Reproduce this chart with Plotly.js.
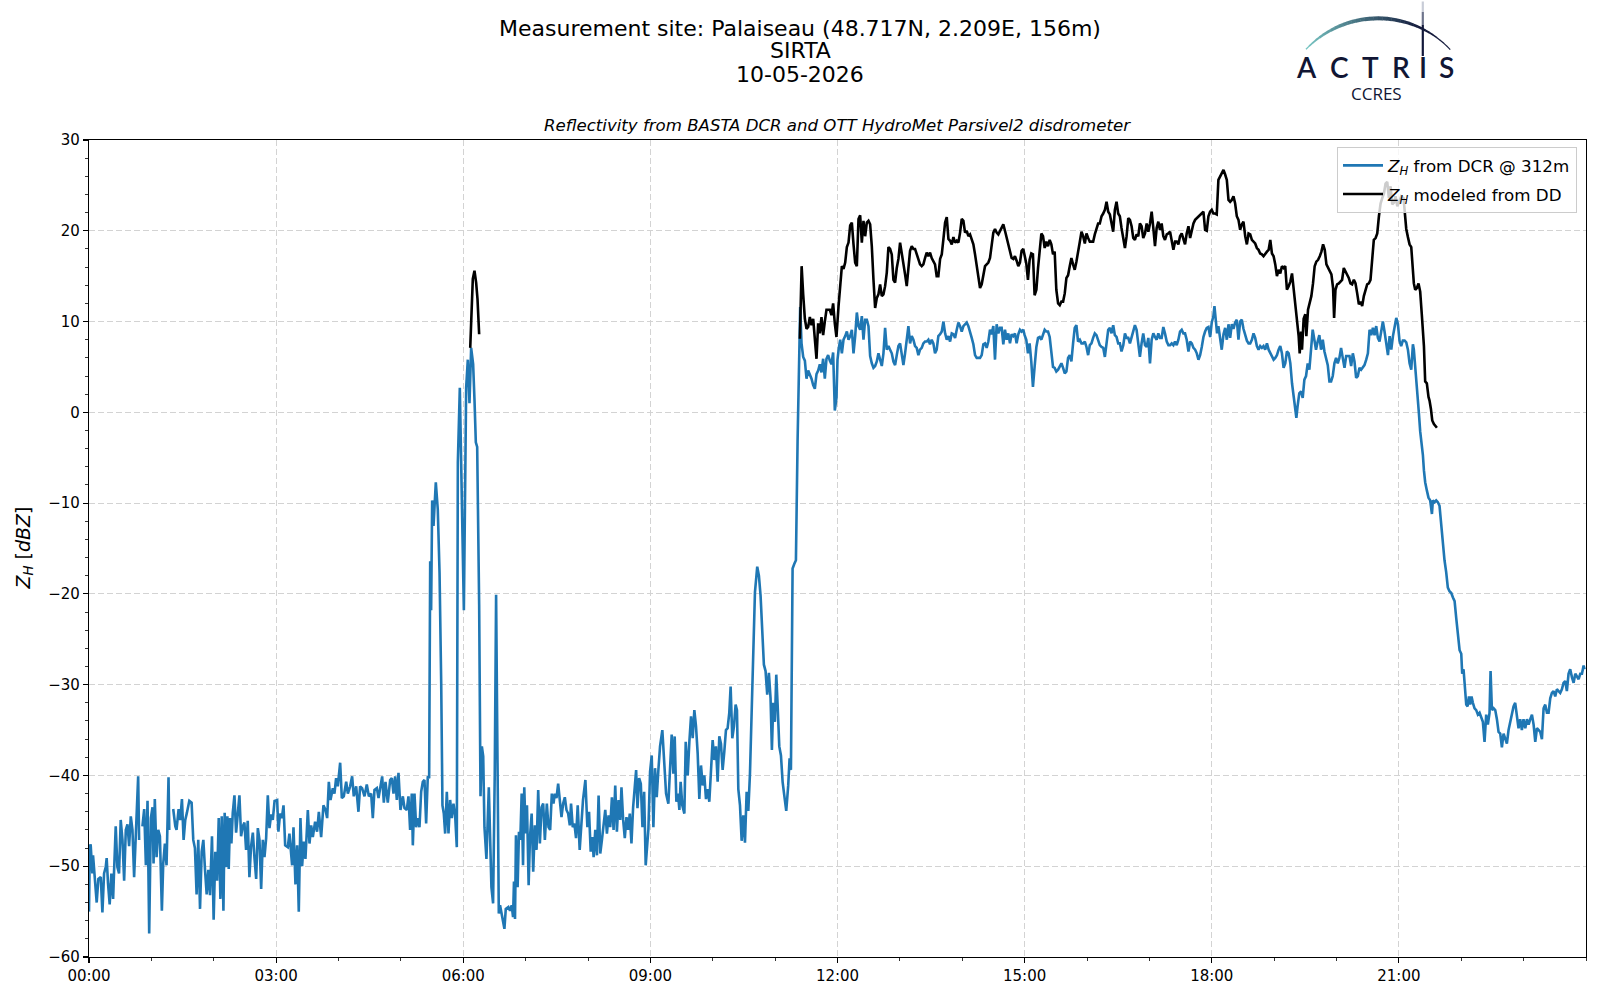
<!DOCTYPE html>
<html>
<head>
<meta charset="utf-8">
<script src="https://cdn.plot.ly/plotly-3.0.1.min.js"></script>
<style>
  html, body { margin: 0; padding: 0; background: #ffffff; }
  #chart { width: 1600px; height: 1000px; }
</style>
</head>
<body>
<div id="chart"></div>
<script>
// ---------------- DATA (time in minutes after 00:00, reflectivity in dBZ) ----------------
const blueName = "<i>Z</i><sub><i>H</i></sub> from DCR @ 312m";
const blackName = "<i>Z</i><sub><i>H</i></sub> modeled from DD";

const blueTime = [
  0, 0.8, 1.6, 3.2, 3.9, 5.8, 7.4, 9.0, 11.3, 12.9,
  14.5, 16.1, 17.0, 18.3, 19.9, 21.5, 23.2, 24.1, 25.7, 27.3,
  28.9, 30.5, 32.2, 33.8, 35.4, 37.0, 38.6, 40.2, 41.8, 43.4,
  45.0, 47.3, 48.2, 49.8, 51.4, 53.1, 54.7, 56.3, 57.9, 59.5,
  61.1, 62.1, 63.3, 65.0, 66.6, 68.2, 70.1, 71.4, 73.0, 74.6,
  76.5, 77.2, 79.0, 81.0, 83.0, 84.2, 86.2, 87.8, 89.4, 91.0,
  92.6, 94.2, 96.5, 98.7, 100.3, 101.9, 103.5, 105.1, 106.8, 108.4,
  110.0, 111.6, 113.2, 114.8, 116.4, 118.3, 119.9, 121.5, 123.2, 124.8,
  126.4, 127.7, 129.3, 130.5, 131.8, 133.1, 134.4, 135.7, 137.0, 138.3,
  139.9, 141.5, 143.1, 144.7, 146.3, 147.9, 149.5, 151.1, 152.7, 154.3,
  155.9, 157.6, 159.2, 160.8, 162.4, 164.0, 165.6, 167.2, 168.8, 170.4,
  172.0, 173.6, 175.2, 176.8, 178.5, 181.0, 182.2, 183.8, 185.5, 187.1,
  188.7, 191.2, 192.8, 194.4, 195.4, 196.7, 198.6, 200.2, 201.8, 203.4,
  205.0, 206.6, 208.2, 210.5, 212.1, 213.7, 215.3, 217.5, 219.4, 221.1,
  223.3, 225.5, 227.5, 229.1, 230.7, 232.3, 234.5, 236.1, 237.7, 239.3,
  241.6, 243.2, 245.1, 247.4, 249.0, 251.2, 253.1, 254.7, 257.0, 259.2,
  260.8, 262.7, 265.0, 267.2, 269.2, 271.4, 273.0, 274.6, 276.9, 278.5,
  280.1, 282.0, 283.6, 285.2, 287.4, 289.7, 291.3, 292.9, 294.5, 296.1,
  297.7, 299.6, 301.9, 303.5, 305.7, 307.3, 308.9, 310.5, 311.5, 313.1,
  314.7, 316.3, 317.9, 319.5, 321.1, 322.7, 324.3, 325.9, 327.2, 328.2,
  329.1, 330.1, 331.4, 332.3, 333.6, 335.5, 337.2, 338.8, 340.0, 341.3,
  342.6, 344.2, 345.8, 347.4, 349.0, 350.6, 352.2, 353.8, 354.8, 356.7,
  358.0, 359.3, 360.6, 361.5, 362.8, 364.4, 366.0, 367.6, 369.5, 370.8,
  372.1, 373.4, 375.3, 376.6, 377.9, 379.2, 380.4, 382.3, 384.6, 385.9,
  387.1, 388.7, 390.3, 391.6, 392.9, 394.2, 395.4, 397.7, 399.6, 400.9,
  403.4, 405.0, 406.6, 407.9, 408.8, 409.8, 410.7, 412.3, 413.6, 414.9,
  416.2, 417.5, 418.7, 420.0, 421.3, 422.9, 424.2, 425.8, 427.3, 428.9,
  430.5, 432.1, 433.7, 435.3, 436.9, 438.5, 440.4, 442.0, 443.6, 445.2,
  446.8, 448.1, 449.7, 451.3, 452.9, 454.5, 456.1, 457.7, 459.3, 460.9,
  462.5, 463.7, 465.3, 466.9, 468.5, 470.1, 472.0, 473.6, 475.2, 477.5,
  479.4, 481.0, 482.6, 484.2, 485.4, 487.0, 488.6, 490.2, 491.8, 493.4,
  495.0, 496.6, 498.2, 499.8, 501.4, 503.0, 504.6, 506.2, 507.8, 509.4,
  511.0, 512.2, 513.8, 515.4, 517.0, 518.6, 520.2, 521.8, 523.4, 524.7,
  526.3, 527.6, 529.2, 530.8, 532.4, 534.0, 535.5, 538.1, 539.7, 541.3,
  542.9, 544.5, 546.1, 547.7, 549.3, 551.5, 553.5, 555.1, 557.3, 558.9,
  560.5, 562.1, 563.4, 565.0, 566.6, 567.9, 569.1, 570.7, 572.7, 574.0,
  575.9, 577.5, 579.1, 580.7, 582.3, 583.9, 585.5, 587.1, 588.7, 590.3,
  591.9, 593.5, 595.1, 596.7, 598.3, 599.9, 601.5, 603.1, 604.7, 606.3,
  607.9, 609.5, 611.1, 612.7, 614.3, 615.9, 617.2, 618.8, 620.4, 622.0,
  623.3, 624.6, 626.2, 627.8, 629.4, 631.0, 632.6, 634.2, 635.8, 637.4,
  639.0, 640.6, 642.8, 644.4, 646.0, 647.6, 649.2, 650.8, 652.4, 654.0,
  655.6, 656.9, 658.2, 659.8, 661.1, 662.4, 664.0, 665.6, 667.2, 668.8,
  670.7, 672.6, 673.9, 675.2, 676.8, 678.4, 680.0, 681.6, 682.9, 684.1,
  685.4, 687.0, 688.6, 690.2, 691.8, 693.4, 695.0, 696.6, 698.2, 699.8,
  701.4, 703.0, 704.6, 706.2, 707.8, 709.4, 711.0, 712.6, 714.2, 715.8,
  717.4, 719.0, 720.0, 721.3, 722.6, 724.2, 725.8, 727.4, 729.0, 730.6,
  732.2, 733.8, 735.4, 737.0, 738.6, 740.2, 741.8, 743.4, 745.0, 746.6,
  748.2, 749.8, 751.4, 753.0, 754.6, 756.2, 757.8, 759.4, 761.0, 762.6,
  764.2, 765.8, 767.4, 769.0, 770.6, 772.2, 773.8, 775.4, 777.0, 778.6,
  780.2, 781.8, 783.4, 785.0, 786.6, 788.2, 789.8, 791.4, 793.0, 794.6,
  796.2, 797.8, 799.4, 801.0, 802.6, 804.2, 805.8, 807.4, 809.0, 810.6,
  812.2, 813.8, 815.4, 817.0, 818.7, 820.3, 821.9, 823.5, 825.1, 826.7,
  828.3, 829.9, 831.5, 833.1, 834.7, 836.3, 837.9, 839.5, 841.1, 842.7,
  844.3, 845.9, 847.5, 849.1, 850.7, 852.3, 853.9, 855.5, 857.1, 858.7,
  860.3, 861.9, 863.5, 865.1, 866.7, 868.3, 869.9, 871.5, 873.1, 874.7,
  876.3, 877.9, 879.5, 881.1, 882.7, 884.3, 885.9, 887.5, 889.1, 890.7,
  892.3, 893.9, 895.5, 897.1, 898.7, 900.0, 901.6, 903.2, 904.8, 906.4,
  908.0, 909.6, 911.3, 912.9, 914.5, 916.1, 917.7, 919.3, 920.9, 922.5,
  924.1, 925.7, 927.3, 928.9, 930.5, 932.2, 933.8, 935.4, 937.0, 938.6,
  940.2, 941.8, 943.4, 945.0, 946.6, 948.2, 949.8, 951.4, 953.1, 954.7,
  956.3, 957.9, 959.5, 961.1, 962.7, 964.3, 965.9, 967.5, 969.1, 970.7,
  972.3, 974.0, 975.6, 977.2, 978.8, 980.4, 982.0, 983.6, 985.2, 986.8,
  988.4, 990.0, 991.6, 993.2, 994.9, 996.5, 998.1, 999.7, 1001.3, 1002.9,
  1004.5, 1006.1, 1007.7, 1009.3, 1010.9, 1012.5, 1014.1, 1015.8, 1017.4, 1019.0,
  1020.6, 1022.2, 1023.8, 1025.4, 1027.0, 1028.6, 1030.2, 1031.8, 1033.4, 1035.0,
  1036.7, 1038.3, 1039.9, 1041.5, 1043.1, 1044.7, 1046.3, 1047.9, 1049.5, 1051.1,
  1052.7, 1054.3, 1055.9, 1057.6, 1059.2, 1060.8, 1062.4, 1064.0, 1065.6, 1067.2,
  1068.8, 1070.4, 1072.0, 1073.6, 1075.2, 1076.8, 1078.5, 1080.0, 1081.6, 1082.6,
  1083.9, 1085.1, 1086.4, 1088.0, 1089.6, 1091.3, 1092.9, 1094.5, 1096.1, 1097.7,
  1099.3, 1100.9, 1102.5, 1104.1, 1105.7, 1107.3, 1108.9, 1110.5, 1112.2, 1113.8,
  1115.4, 1117.0, 1118.6, 1120.2, 1121.8, 1123.4, 1125.0, 1126.6, 1128.2, 1129.8,
  1131.4, 1133.1, 1134.7, 1136.3, 1137.9, 1139.5, 1141.1, 1142.7, 1144.3, 1145.9,
  1147.5, 1149.1, 1150.7, 1152.3, 1154.0, 1155.6, 1157.2, 1158.8, 1160.4, 1161.4,
  1162.6, 1164.2, 1165.9, 1167.5, 1169.1, 1170.7, 1172.3, 1173.9, 1175.5, 1177.1,
  1178.7, 1180.3, 1181.9, 1183.5, 1185.1, 1186.8, 1188.4, 1190.0, 1191.6, 1193.2,
  1194.8, 1196.4, 1198.0, 1199.6, 1201.2, 1202.8, 1204.4, 1206.0, 1207.7, 1209.3,
  1210.9, 1212.5, 1214.1, 1215.7, 1217.3, 1218.9, 1220.5, 1222.1, 1223.7, 1225.3,
  1226.9, 1228.6, 1230.2, 1231.8, 1233.4, 1235.0, 1236.6, 1238.2, 1239.8, 1241.4,
  1243.0, 1244.6, 1246.2, 1247.8, 1249.5, 1251.1, 1252.7, 1254.3, 1255.9, 1257.5,
  1259.1, 1260.6, 1262.2, 1263.8, 1265.5, 1267.1, 1268.7, 1270.3, 1271.9, 1273.5,
  1274.4, 1275.7, 1276.7, 1278.3, 1279.2, 1280.5, 1282.1, 1283.1, 1284.1, 1285.3,
  1286.9, 1288.5, 1290.1, 1291.8, 1292.7, 1294.3, 1295.9, 1297.5, 1299.1, 1300.7,
  1302.3, 1303.9, 1305.5, 1307.1, 1308.7, 1310.4, 1312.0, 1313.6, 1315.2, 1316.8,
  1318.4, 1320.0, 1320.9, 1322.2, 1323.5, 1324.8, 1326.1, 1327.4, 1328.6, 1329.9,
  1331.2, 1332.8, 1334.4, 1336.0, 1337.6, 1339.2, 1340.8, 1342.4, 1344.0, 1345.6,
  1347.2, 1348.2, 1349.5, 1351.1, 1352.7, 1354.3, 1355.9, 1357.5, 1359.1, 1360.7,
  1362.3, 1363.9, 1365.5, 1367.1, 1368.7, 1370.3, 1371.9, 1373.5, 1375.1, 1376.7,
  1378.3, 1379.9, 1381.6, 1383.2, 1384.8, 1386.4, 1388.0, 1389.6, 1391.2, 1392.8,
  1394.4, 1396.0, 1397.6, 1399.2, 1400.8, 1402.4, 1404.0, 1405.6, 1407.2, 1408.8,
  1410.4, 1412.0, 1413.6, 1415.2, 1416.8, 1418.4, 1420.0, 1421.6, 1423.2, 1424.8,
  1426.5, 1428.1, 1429.7, 1431.3, 1432.9, 1434.5, 1436.1, 1437.7, 1438.6
];
const blueZ = [
  -55, -47.8, -47.6, -50.8, -48.8, -51.9, -54.0, -51.4, -51.2, -55.1,
  -50.8, -50.1, -49.1, -51.9, -54.2, -50.8, -53.6, -50.6, -45.6, -50.1,
  -50.8, -44.9, -47.1, -51.6, -46.0, -45.4, -47.8, -44.5, -46.0, -51.2,
  -46.3, -40.1, -47.1, null, -45.6, -43.7, -49.9, -42.8, -57.4, -44.7,
  -43.5, -49.7, -42.6, -49.0, -46.0, -46.7, -54.9, -49.7, -47.5, -49.9,
  -40.2, -46.0, null, -43.7, -45.6, -46.0, -43.7, -44.9, -42.6, -47.1,
  -44.9, -44.1, -42.8, -43.0, -47.1, -48.0, -53.1, -47.1, -54.7, -48.4,
  -47.1, -50.4, -53.1, -50.4, -53.2, -46.7, -55.9, -48.4, -51.6, -44.7,
  -53.6, -44.5, -54.9, -44.1, -50.1, -44.5, -50.3, -44.7, -47.5, -44.1,
  -42.2, -46.3, -43.9, -42.2, -46.7, -45.6, -45.2, -48.2, -45.0, -51.2,
  -47.8, -46.3, -49.1, -51.4, -45.8, -47.1, -52.5, -47.1, -49.0, -46.9,
  -42.2, -45.8, -44.3, -44.9, -42.8, -42.7, -46.2, -44.2, -44.7, -43.3,
  -47.7, -47.9, -46.4, -48.3, -49.9, -45.7, -52.0, -47.7, -55.0, -44.7,
  -50.0, -47.3, -49.2, -43.8, -47.5, -45.5, -46.8, -45.1, -46.2, -44.0,
  -46.8, -43.3, -43.8, -44.7, -40.7, -42.7, -41.4, -42.0, -40.3, -41.2,
  -38.6, -42.5, -42.3, -40.7, -42.0, -41.2, -40.1, -42.3, -41.2, -44.0,
  -41.2, -41.4, -42.3, -41.0, -42.3, -42.0, -44.7, -41.6, -41.4, -42.5,
  -41.2, -40.1, -43.0, -40.7, -43.0, -40.5, -40.3, -42.0, -40.1, -42.7,
  -39.7, -43.8, -42.3, -43.6, -43.8, -42.3, -46.0, -42.0, -47.7, -42.0,
  -45.7, -44.7, -45.7, -41.8, -40.7, -40.5, -45.3, -40.1, -40.3, -16.4,
  -21.8, -9.7, -12.5, -9.9, -7.7, -10.7, -17.7, -29.9, -43.3, -44.2,
  -46.4, -41.8, -46.4, -42.7, -44.7, -43.1, -44.4, -47.9, -5.5, 2.7,
  -7.7, -13.8, -21.8, -11.6, 2.7, 5.8, 1.0, 7.1, 5.3, 1.4,
  -3.3, -3.8, -21.2, -42.3, -36.8, -37.9, -45.7, -49.2, -41.3, -47.1,
  -52.3, -54.1, -39.8, -20.1, -36.1, -55.2, -54.3, -55.6, -56.9, -54.7,
  -54.5, -54.9, -54.3, -55.6, -51.7, -55.8, -46.6, -52.3, -46.2, -47.1,
  -42.0, -49.9, -41.3, -46.4, -43.3, -52.1, -46.8, -44.2, -50.6, -45.5,
  -48.2, -41.6, -47.5, -43.5, -43.1, -47.1, -43.1, -45.7, -46.0, -42.0,
  -43.1, -42.0, -42.5, -40.9, -43.1, -44.6, -43.1, -42.4, -43.8, -44.2,
  -45.5, -43.1, -45.7, -45.3, -46.9, -43.3, -48.2, -45.5, -42.7, -40.5,
  -45.7, -44.0, -48.4, -46.8, -49.0, -46.0, -48.8, -42.2, -48.6, -47.1,
  -45.7, -43.8, -46.4, -44.4, -45.7, -42.4, -46.0, -41.1, -46.2, -42.7,
  -44.9, -41.3, -44.9, -46.9, -44.6, -46.0, -44.2, -47.5, -43.5, -41.4,
  -39.4, -43.6, -40.3, -40.9, -45.7, -41.8, -49.9, -45.9, -39.6, -37.8,
  -45.7, -39.2, -42.4, -39.4, -36.8, -35.0, -39.8, -42.0, -43.1, -38.9,
  -35.5, -39.8, -35.7, -42.9, -42.0, -43.8, -40.7, -43.3, -44.2, -36.3,
  -40.0, -36.3, -33.5, -35.9, -32.8, -34.6, -37.6, -42.6, -38.9, -41.1,
  -40.0, -42.6, -41.5, -42.9, -38.9, -36.1, -38.3, -36.8, -40.7, -35.7,
  -36.5, -39.4, -37.4, -35.0, -34.8, -33.1, -30.2, -35.9, -34.6, -32.2,
  -32.8, -41.5, -43.3, -47.2, -44.4, -47.4, -41.8, -43.9, -39.8, -32.8,
  -24.6, -19.8, -17.0, -18.0, -20.2, -23.3, -27.8, -28.5, -31.1, -28.7,
  -31.5, -37.2, -32.0, -34.1, -28.9, -32.2, -36.8, -37.8, -40.7, -42.2,
  -43.9, -41.1, -38.1, -39.4, -17.2, -16.7, -16.3, -3.2, 5.9, 11.6,
  7.6, 6.1, 5.7, 3.7, 4.6, 4.2, 3.7, 3.0, 2.6, 4.2,
  4.6, 5.3, 4.4, 5.9, 3.7, 5.9, 6.3, 5.7, 5.3, 6.6,
  0.2, 1.6, 5.8, 7.1, 8.0, 6.5, 8.0, 8.4, 8.9, 8.0,
  8.4, 9.1, 6.5, 8.4, 11.0, 9.5, 9.1, 10.6, 8.0, 10.2,
  10.2, 9.5, 6.2, 5.4, 4.9, 5.1, 5.6, 6.5, 5.8, 5.1,
  6.5, 9.3, 6.9, 7.3, 6.9, 6.5, 5.6, 5.2, 6.3, 7.3,
  7.6, 6.5, 5.2, 6.5, 8.0, 9.5, 7.6, 8.4, 8.0, 7.3,
  7.1, 6.3, 6.9, 7.1, 7.6, 7.8, 7.8, 8.0, 7.5, 8.0,
  7.6, 6.5, 6.9, 8.4, 8.6, 8.9, 10.0, 8.7, 8.0, 8.4,
  7.8, 8.7, 8.6, 8.2, 9.1, 9.9, 9.5, 8.9, 9.5, 9.7,
  9.9, 9.5, 8.7, 8.2, 7.5, 6.3, 6.0, 6.0, 6.0, 6.3,
  7.5, 7.6, 7.1, 7.8, 9.1, 8.6, 9.5, 5.8, 9.7, 8.7,
  9.3, 9.3, 7.5, 9.1, 8.0, 8.7, 7.6, 8.6, 8.4, 8.7,
  7.6, 8.6, 9.1, 8.9, 9.1, 8.5, 8.0, 6.5, 7.6, 5.6,
  2.8, 5.0, 7.2, 8.2, 8.3, 8.0, 8.7, 9.1, 8.9, 8.9,
  8.3, 6.3, 5.0, 4.9, 4.5, 4.7, 5.0, 5.4, 4.9, 4.3,
  4.5, 6.0, 6.3, 5.6, 7.6, 9.3, 9.6, 7.8, 8.0, 7.6,
  7.6, 7.8, 7.2, 6.3, 7.4, 7.6, 8.2, 8.7, 8.5, 8.0,
  7.4, 7.2, 7.1, 6.1, 8.0, 9.1, 9.3, 8.7, 9.6, 8.5,
  8.3, 7.6, 7.6, 6.7, 7.4, 8.7, 8.2, 8.2, 7.6, 8.3,
  9.1, 9.6, 9.1, 7.6, 6.1, 7.6, 8.7, 7.4, 7.2, 8.2,
  5.4, 8.0, 8.7, 8.3, 8.0, 8.7, 8.2, 8.2, 9.4, 8.7,
  7.8, 7.4, 7.4, 7.6, 7.4, 7.8, 7.4, 8.0, 8.9, 9.1,
  8.7, 8.7, 8.0, 6.7, 7.8, 7.6, 7.1, 6.9, 6.5, 5.8,
  6.3, 7.2, 8.3, 8.9, 9.3, 9.4, 8.3, 9.9, 10.6, 11.7,
  9.9, 8.7, 9.5, 8.4, 6.9, 8.6, 9.3, 8.0, 9.7, 8.2,
  9.7, 9.2, 9.9, 10.2, 8.0, 10.0, 10.2, 9.2, 8.4, 7.9,
  7.6, 7.6, 8.0, 8.7, 8.2, 7.3, 6.9, 7.3, 7.1, 7.3,
  6.9, 7.6, 6.9, 6.5, 6.2, 5.8, 6.0, 6.3, 6.9, 7.3,
  6.5, 4.9, 5.4, 6.7, 6.5, 5.4, 3.2, 1.8, 0.8, -0.6,
  0.7, 2.1, 2.3, 1.6, 3.6, 4.0, 5.4, 4.7, 6.9, 9.1,
  8.0, 6.9, 7.8, 8.5, 6.9, 8.0, 6.7, 6.0, 5.2, 3.4,
  3.4, 4.0, 5.4, 6.0, 5.4, 6.0, 7.1, 6.0, 4.9, 6.2,
  6.2, 6.2, 5.1, 6.5, 5.6, 3.8, 4.0, 4.9, 4.7, 4.9,
  5.2, 5.8, 6.5, 9.1, 8.5, 9.3, 8.5, 9.5, 8.2, 7.8,
  8.7, 10.0, 8.9, 7.6, 6.3, 8.4, 6.9, 8.4, 9.5, 10.4,
  9.7, 7.9, 7.3, 7.9, 7.9, 7.7, 6.9, 5.4, 4.7, 7.5,
  6.9, 5.2, 3.9, 1.7, 0.0, -2.1, -3.4, -4.7, -6.4, -7.7,
  -8.6, -9.4, -9.7, -11.2, -9.7, -9.9, -9.7, -9.9, -10.3, -12.4,
  -14.6, -16.3, -17.6, -19.3, -19.7, -19.9, -20.4, -20.8, -22.7, -24.9,
  -26.2, -26.6, -28.8, -28.3, -30.5, -32.2, -32.4, -31.3, -32.2, -31.3,
  -32.0, -32.6, -32.8, -33.3, -33.1, -33.7, -34.1, -36.3, -33.3, -34.4,
  -33.1, -28.5, -32.8, -32.6, -32.8, -33.8, -35.2, -35.4, -36.9, -35.4,
  -36.0, -36.5, -35.0, -34.1, -33.1, -32.4, -32.0, -33.5, -34.8, -33.8,
  -35.0, -33.8, -34.8, -33.8, -34.4, -33.8, -33.3, -34.4, -36.3, -34.8,
  -35.0, -35.2, -36.0, -32.6, -32.2, -33.1, -33.1, -31.5, -30.9, -30.7,
  -31.3, -30.5, -30.7, -30.9, -30.5, -29.8, -29.6, -30.7, -28.8, -28.3,
  -29.2, -29.8, -28.8, -29.2, -29.4, -28.8, -28.8, -27.9, -28.3
];

const blackTime = [
  366.7, 368.3, 369.2, 370.8, 372.4, 373.7, 375.3, 530.0, 683.8, 685.5,
  687.0, 688.6, 690.2, 691.8, 693.4, 695.0, 696.6, 698.2, 699.8, 701.4,
  703.0, 704.6, 706.2, 707.8, 709.4, 711.0, 712.6, 714.2, 715.8, 717.4,
  719.0, 721.0, 722.6, 724.2, 725.8, 727.4, 729.0, 730.6, 732.2, 733.8,
  735.4, 737.0, 738.6, 740.2, 741.8, 743.4, 745.0, 746.6, 748.2, 749.8,
  751.4, 753.0, 754.6, 756.2, 757.8, 759.4, 761.0, 762.6, 764.2, 765.8,
  767.4, 769.0, 770.6, 772.2, 773.8, 775.4, 777.0, 778.6, 780.2, 781.8,
  783.4, 785.0, 786.6, 788.2, 789.8, 791.4, 793.0, 794.6, 796.2, 797.8,
  799.4, 801.0, 802.6, 804.2, 805.8, 807.4, 809.0, 810.6, 812.2, 813.8,
  815.4, 817.0, 818.7, 820.3, 821.9, 823.5, 825.1, 826.7, 828.3, 829.9,
  831.5, 833.1, 834.7, 836.3, 837.9, 839.5, 841.1, 842.7, 844.3, 845.9,
  847.5, 849.1, 850.7, 852.3, 853.9, 855.5, 857.1, 858.7, 860.3, 861.9,
  863.5, 865.1, 866.7, 868.3, 869.9, 871.5, 873.1, 874.7, 876.3, 877.9,
  879.5, 881.1, 882.7, 884.3, 885.9, 887.5, 889.1, 890.7, 892.3, 893.9,
  895.5, 897.1, 898.7, 900.0, 901.6, 903.2, 904.8, 906.4, 908.0, 909.6,
  911.3, 912.9, 914.5, 916.1, 917.7, 919.3, 920.9, 922.5, 924.1, 925.7,
  927.3, 928.9, 930.5, 932.2, 933.8, 935.4, 937.0, 938.6, 940.2, 941.8,
  943.4, 945.0, 946.6, 948.2, 949.8, 951.4, 953.1, 954.7, 956.3, 957.9,
  959.5, 961.1, 962.7, 964.3, 965.9, 967.5, 969.1, 970.7, 972.3, 974.0,
  975.6, 977.2, 978.8, 980.4, 982.0, 983.6, 985.2, 986.8, 988.4, 990.0,
  991.6, 993.2, 994.9, 996.5, 998.1, 999.7, 1001.3, 1002.9, 1004.5, 1006.1,
  1007.7, 1009.3, 1010.9, 1012.5, 1014.1, 1015.8, 1017.4, 1019.0, 1020.6, 1022.2,
  1023.8, 1025.4, 1027.0, 1028.6, 1030.2, 1031.8, 1033.4, 1035.0, 1036.7, 1038.3,
  1039.9, 1041.5, 1043.1, 1044.7, 1046.3, 1047.9, 1049.5, 1051.1, 1052.7, 1054.3,
  1055.9, 1057.6, 1059.2, 1060.8, 1062.4, 1064.0, 1065.6, 1067.2, 1068.8, 1070.4,
  1072.0, 1073.6, 1075.2, 1076.8, 1078.4, 1080.0, 1081.6, 1083.2, 1084.8, 1086.4,
  1088.0, 1089.6, 1091.3, 1092.9, 1094.5, 1096.1, 1097.7, 1099.3, 1100.9, 1102.5,
  1104.1, 1105.7, 1107.3, 1108.9, 1110.5, 1112.2, 1113.8, 1115.4, 1117.0, 1118.6,
  1120.2, 1121.8, 1123.4, 1125.0, 1126.6, 1128.2, 1129.8, 1131.4, 1133.1, 1134.7,
  1136.3, 1137.9, 1139.5, 1141.1, 1142.7, 1144.3, 1145.9, 1147.5, 1149.1, 1150.7,
  1152.3, 1154.0, 1155.6, 1157.2, 1158.8, 1160.4, 1162.0, 1163.6, 1164.6, 1165.9,
  1166.8, 1168.4, 1170.0, 1171.0, 1172.6, 1174.2, 1175.8, 1177.4, 1179.0, 1180.6,
  1182.3, 1183.9, 1185.5, 1187.1, 1188.7, 1190.3, 1191.9, 1193.5, 1195.1, 1196.7,
  1197.7, 1199.0, 1200.6, 1202.2, 1203.8, 1205.4, 1207.0, 1208.6, 1210.2, 1211.8,
  1213.4, 1215.0, 1216.7, 1218.3, 1219.9, 1221.5, 1223.1, 1224.7, 1226.3, 1227.9,
  1229.5, 1231.1, 1232.7, 1234.3, 1235.9, 1237.6, 1239.2, 1240.8, 1242.4, 1244.0,
  1245.6, 1247.2, 1248.8, 1250.4, 1252.0, 1253.6, 1255.2, 1256.8, 1258.5, 1260.1,
  1262.2, 1264.5, 1265.5, 1267.1, 1268.7, 1270.3, 1271.9, 1273.5, 1274.4, 1275.7,
  1277.3, 1278.9, 1280.5, 1282.1, 1283.1, 1284.1, 1285.3, 1286.9, 1288.5, 1289.5,
  1290.8, 1292.1, 1293.7, 1295.0, 1296.6
];
const blackZ = [
  7.1, 11.0, 14.7, 15.6, 14.3, 12.5, 8.6, null, 8.1, 16.1,
  13.0, 10.3, 9.2, 9.4, 10.5, 9.6, 10.3, 8.1, 5.9, 9.8,
  8.7, 10.5, 8.5, 10.0, 11.3, 11.3, 11.3, 10.7, 12.0, 9.8,
  8.3, 11.7, 13.5, 16.1, 15.8, 16.5, 18.2, 18.7, 20.6, 20.9,
  18.5, 16.5, 16.1, 21.3, 21.7, 18.7, 21.1, 19.4, 20.9, 21.1,
  20.7, 18.3, 14.6, 11.5, 12.6, 13.0, 14.1, 12.8, 13.0, 13.9,
  15.4, 18.2, 18.0, 17.4, 14.6, 14.3, 15.9, 16.9, 18.7, 17.6,
  16.7, 15.2, 13.9, 15.6, 17.8, 18.3, 18.0, 18.0, 17.4, 17.0,
  16.3, 16.1, 16.3, 17.0, 17.6, 17.2, 17.6, 17.0, 16.7, 16.3,
  15.0, 15.0, 16.9, 17.4, 19.1, 20.9, 21.5, 19.1, 18.9, 18.5,
  19.3, 18.7, 18.9, 18.7, 19.8, 21.3, 21.1, 19.8, 20.0, 19.4,
  19.6, 18.9, 18.5, 17.4, 16.1, 14.6, 13.7, 14.1, 15.0, 16.1,
  16.3, 16.5, 17.0, 18.7, 19.8, 20.2, 19.8, 19.6, 20.0, 20.2,
  20.7, 20.0, 19.3, 18.7, 17.8, 17.0, 16.9, 17.2, 16.7, 16.1,
  16.5, 17.8, 18.0, 17.4, 16.4, 14.6, 16.8, 17.5, 17.4, 12.9,
  13.5, 15.9, 17.7, 19.7, 19.4, 18.1, 18.8, 18.3, 19.0, 18.5,
  17.4, 17.7, 13.5, 12.0, 11.8, 12.2, 12.2, 13.1, 14.8, 15.1,
  16.1, 17.0, 16.3, 15.7, 16.6, 17.9, 18.8, 19.9, 19.4, 18.6,
  19.7, 19.2, 18.8, 18.8, 18.8, 19.6, 20.3, 20.8, 20.8, 21.6,
  21.9, 22.3, 23.2, 22.1, 21.8, 21.0, 19.9, 22.3, 23.2, 21.9,
  21.6, 20.3, 19.0, 18.1, 19.4, 21.4, 21.2, 20.5, 19.2, 19.0,
  19.6, 19.4, 20.8, 20.5, 19.2, 19.7, 20.8, 19.9, 20.8, 22.1,
  20.3, 18.3, 20.3, 21.0, 20.1, 20.8, 19.4, 19.0, 19.6, 19.7,
  19.9, 19.0, 17.9, 18.8, 18.8, 18.5, 19.4, 19.7, 19.2, 18.5,
  19.7, 20.5, 19.2, 20.1, 20.8, 21.2, 21.4, 21.6, 21.8, 21.9,
  22.1, 20.1, 20.0, 21.6, 22.1, 22.3, 21.9, 21.9, 21.8, 25.6,
  26.0, 26.3, 26.7, 26.2, 25.6, 23.4, 23.2, 23.4, 23.8, 23.0,
  21.6, 21.2, 20.1, 20.7, 21.0, 19.4, 18.5, 19.7, 19.6, 19.0,
  18.8, 18.6, 18.1, 17.9, 17.5, 17.4, 17.2, 17.5, 17.7, 17.9,
  19.0, 17.5, 17.2, 16.3, 15.0, 15.7, 15.3, 16.1, 15.9, 16.1,
  13.5, 13.9, 14.4, 15.3, 13.5, 12.4, 10.3, 8.4, 6.5, 8.9,
  6.9, 10.3, 10.8, 8.4, 11.3, 12.0, 12.8, 14.2, 16.1, 16.6,
  16.8, 17.2, 17.7, 18.5, 17.9, 16.3, 15.9, 15.5, 15.2, 13.7,
  10.4, 13.5, 14.1, 14.2, 14.4, 14.6, 15.9, 15.5, 15.2, 14.8,
  14.2, 14.1, 14.6, 14.2, 13.1, 11.9, 12.2, 11.7, 12.8, 13.5,
  14.1, 14.2, 14.6, 16.8, 19.0, 19.2, 19.7, 21.6, 23.0, 23.6,
  24.1, 25.2, 25.4, 23.6, 24.9, 22.9, 23.1, 23.8, 22.7, 23.1,
  23.8, 23.6, 22.3, 20.2, 19.3, 18.5, 18.2, 15.9, 14.2, 13.5,
  13.7, 14.2, 13.3, 10.7, 9.0, 7.3, 3.4, 3.2, 1.7, 1.3,
  0.4, -0.9, -1.3, -1.5, -1.7
];

const xTickVals = [0, 3, 6, 9, 12, 15, 18, 21];
const xTickText = ["00:00", "03:00", "06:00", "09:00", "12:00", "15:00", "18:00", "21:00"];
const titleLines = ["Measurement site: Palaiseau (48.717N, 2.209E, 156m)", "SIRTA", "10-05-2026"];
const subTitle = "Reflectivity from BASTA DCR and OTT HydroMet Parsivel2 disdrometer";
const yLabel = "<i>Z</i><sub><i>H</i></sub> [<i>dBZ</i>]";
const logoLetters = ["A", "C", "T", "R", "I", "S"];
const logoSub = "CCRES";

// ---------------- LAYOUT HELPERS (pixel -> paper for decorations) ----------------
const W = 1600, H = 1000;
const M = { l: 89, r: 14, t: 140, b: 43 };
const PW = W - M.l - M.r, PH = H - M.t - M.b;
const px = x => (x - M.l) / PW;
const py = y => (H - M.b - y) / PH;
const FONT = "DejaVu Sans, Liberation Sans, sans-serif";

const toHours = arr => arr.map(m => m / 60);

const traces = [
  {
    type: "scatter", mode: "lines", name: blueName, legendgroup: "a",
    x: toHours(blueTime), y: blueZ,
    line: { color: "#1f77b4", width: 2.6 }, connectgaps: false, hoverinfo: "skip"
  },
  {
    type: "scatter", mode: "lines", name: blackName, legendgroup: "b",
    x: toHours(blackTime), y: blackZ,
    line: { color: "#000000", width: 2.6 }, connectgaps: false, hoverinfo: "skip"
  }
];

const annotations = [];
const titleY = [28.5, 51, 74];
titleLines.forEach((t, i) => annotations.push({
  text: t, xref: "paper", yref: "paper", x: px(800), y: py(titleY[i]),
  xanchor: "center", yanchor: "middle", showarrow: false,
  font: { family: FONT, size: 22, color: "#000" }
}));
annotations.push({
  text: "<i>" + subTitle + "</i>", xref: "paper", yref: "paper", x: 0.5, y: py(125.5),
  xanchor: "center", yanchor: "middle", showarrow: false,
  font: { family: FONT, size: 16.6, color: "#000" }
});
annotations.push({
  text: yLabel, xref: "paper", yref: "paper", x: px(24), y: 0.5, textangle: -90,
  xanchor: "center", yanchor: "middle", showarrow: false,
  font: { family: FONT, size: 19, color: "#000" }
});
// logo text
const letterX = [1306.7, 1339, 1370, 1400.8, 1422.8, 1446.7];
logoLetters.forEach((c, i) => annotations.push({
  text: c, xref: "paper", yref: "paper", x: px(letterX[i]), y: py(67.5),
  xanchor: "center", yanchor: "middle", showarrow: false,
  font: { family: "Lato, Open Sans, sans-serif", size: 28, color: "#111634", weight: 600 }
}));
annotations.push({
  text: logoSub, xref: "paper", yref: "paper", x: px(1376.3), y: py(93.5),
  xanchor: "center", yanchor: "middle", showarrow: false,
  font: { family: "Open Sans, sans-serif", size: 17, color: "#111634" }
});

// logo arc (gradient teal -> navy drawn as short segments)
const shapes = [];
const cx = 1378, cy = 117.4, R = 99.1;
const a0 = -136.6 * Math.PI / 180, a1 = -43.4 * Math.PI / 180;
const N = 36;
const c0 = [120, 200, 196], c1 = [18, 24, 58];
for (let i = 0; i < N; i++) {
  const t0 = a0 + (a1 - a0) * i / N, t1 = a0 + (a1 - a0) * (i + 1.08) / N;
  const f = (i + 0.5) / N;
  const g = Math.min(1, f * 1.3);
  const col = `rgb(${Math.round(c0[0] + (c1[0] - c0[0]) * g)},${Math.round(c0[1] + (c1[1] - c0[1]) * g)},${Math.round(c0[2] + (c1[2] - c0[2]) * g)})`;
  const w = 1.2 + 2.8 * Math.sin(Math.PI * Math.min(1, f * 1.1));
  shapes.push({
    type: "line", xref: "paper", yref: "paper", layer: "above",
    x0: px(cx + R * Math.cos(t0)), y0: py(cy + R * Math.sin(t0)),
    x1: px(cx + R * Math.cos(t1)), y1: py(cy + R * Math.sin(t1)),
    line: { color: col, width: Math.max(1, w) }
  });
}
// vertical stroke above the "I"
const vSeg = [[1.5, 12, "rgb(200,204,215)"], [12, 25, "rgb(110,116,140)"], [25, 56, "rgb(18,24,58)"]];
vSeg.forEach(s => shapes.push({
  type: "line", xref: "paper", yref: "paper", layer: "above",
  x0: px(1422.8), y0: py(s[0]), x1: px(1422.8), y1: py(s[1]),
  line: { color: s[2], width: 2.2 }
}));

const layout = {
  width: W, height: H,
  margin: M,
  paper_bgcolor: "#ffffff", plot_bgcolor: "#ffffff",
  font: { family: FONT, size: 15, color: "#000" },
  showlegend: true,
  legend: {
    x: px(1577), y: py(147), xanchor: "right", yanchor: "top",
    bgcolor: "rgba(255,255,255,0.8)", bordercolor: "#cccccc", borderwidth: 1,
    font: { family: FONT, size: 16.7, color: "#000" },
    tracegroupgap: 4, itemwidth: 40
  },
  xaxis: {
    range: [0, 24], tickmode: "array", tickvals: xTickVals, ticktext: xTickText,
    showline: true, linecolor: "#000", linewidth: 1.1, mirror: true,
    ticks: "outside", ticklen: 5, tickwidth: 1.1, tickcolor: "#000",
    showgrid: true, gridcolor: "#d3d3d3", gridwidth: 1, griddash: "6px,3px",
    zeroline: false,
    tickfont: { family: FONT, size: 15, color: "#000" },
    minor: { tickmode: "linear", tick0: 0, dtick: 1, ticks: "outside", ticklen: 3, tickwidth: 0.8, tickcolor: "#000", showgrid: false }
  },
  yaxis: {
    range: [-60, 30], tickmode: "linear", tick0: 0, dtick: 10,
    showline: true, linecolor: "#000", linewidth: 1.1, mirror: true,
    ticks: "outside", ticklen: 5, tickwidth: 1.1, tickcolor: "#000",
    showgrid: true, gridcolor: "#d3d3d3", gridwidth: 1, griddash: "6px,3px",
    zeroline: false,
    tickfont: { family: FONT, size: 15, color: "#000" },
    minor: { tickmode: "linear", tick0: 0, dtick: 2, ticks: "outside", ticklen: 3, tickwidth: 0.8, tickcolor: "#000", showgrid: false }
  },
  annotations: annotations,
  shapes: shapes,
  hovermode: false
};

Plotly.newPlot("chart", traces, layout, { displayModeBar: false, staticPlot: true });
</script>
</body>
</html>
